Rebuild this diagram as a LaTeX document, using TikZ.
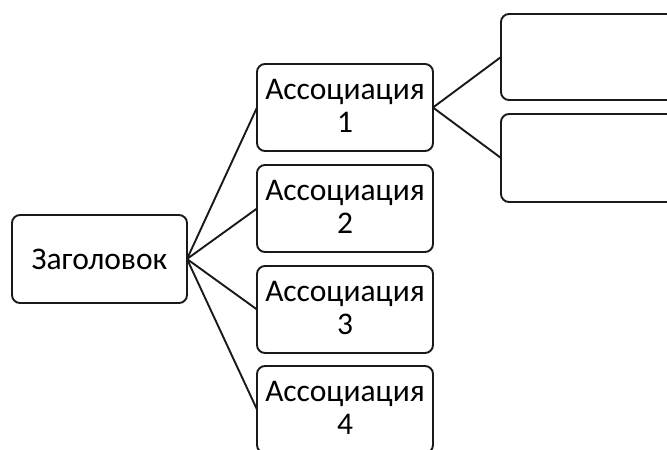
\documentclass[tikz,border=0pt]{standalone}
\usepackage{fontspec}
\setmainfont{Carlito}
\begin{document}
\begin{tikzpicture}[x=1pt,y=-1pt,
  box/.style={draw=black!90, line width=1.9pt, rounded corners=8pt, fill=white},
  link/.style={draw=black!90, line width=1.9pt},
  lbl/.style={font=\fontsize{31.5}{33}\selectfont, align=center, text=black, inner sep=0pt}]
\useasboundingbox (0,0) rectangle (667,450);
\clip (0,0) rectangle (667,450);
% boxes as rectangles with named anchor coordinates
\draw[box] (12,215) rectangle (187,303);
\coordinate (head) at (187,259);
\node[lbl] (headtxt) at (99.5,259) {Заголовок};
\foreach \i/\t in {1/64,2/165,3/266,4/366}{
  \draw[box] (257,\t) rectangle (433,\t+87);
  \coordinate (a\i) at (257,\t+43.5);
  \node[lbl] (a\i txt) at (345,\t+41.5) {Ассоциация\\\i};
}
\coordinate (a1r) at (433,107.5);
\draw[box] (501,14) rectangle (690,100);
\coordinate (r1) at (501,57);
\draw[box] (501,114) rectangle (690,202);
\coordinate (r2) at (501,158);
% connectors
\foreach \i in {1,...,4} \draw[link] (head) -- (a\i);
\draw[link] (a1r) -- (r1);
\draw[link] (a1r) -- (r2);
\end{tikzpicture}
\end{document}
